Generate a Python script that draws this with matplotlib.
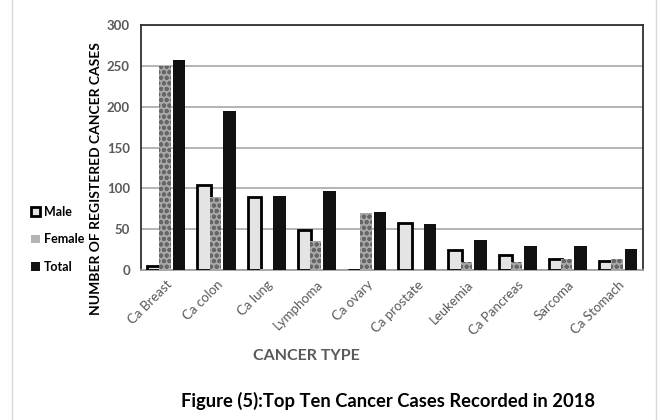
import numpy as np
import matplotlib.pyplot as plt
from matplotlib.lines import Line2D
from matplotlib.patches import Patch

categories = ["Ca Breast", "Ca colon", "Ca lung", "Lymphoma", "Ca ovary",
              "Ca prostate", "Leukemia", "Ca Pancreas", "Sarcoma", "Ca Stomach"]
male = [5, 104, 89, 49, 0, 58, 25, 18, 14, 11]
female = [250, 89, 1, 35, 70, 0, 10, 10, 14, 13]
total = [257, 195, 91, 97, 71, 56, 37, 30, 30, 26]

plt.rcParams['font.family'] = ['Lato', 'DejaVu Sans']
plt.rcParams['hatch.linewidth'] = 1.3

fig = plt.figure(figsize=(6.61, 4.2), dpi=100)
ax = fig.add_axes([0.2133, 0.357, 0.7595, 0.5833])

x = np.arange(len(categories))
w = 0.27
ax.bar(x - 0.24, male, w, color='#e4e4e4', edgecolor='black', linewidth=2, zorder=3)
ax.bar(x - 0.02, female, w - 0.04, color='#a8a8a8', edgecolor='#666666',
       hatch='ooo', linewidth=0, zorder=4)
ax.bar(x + 0.26, total, w - 0.02, color='#111111', zorder=3)

ax.set_xlim(-0.5, len(categories) - 0.5)
ax.set_ylim(0, 300)
ax.set_yticks(range(0, 301, 50))
ax.yaxis.grid(True, color='#a8a8a8', linewidth=1.2)
ax.set_axisbelow(True)
for side in ['left', 'top', 'right']:
    ax.spines[side].set_color('#303030')
    ax.spines[side].set_linewidth(1.3)
ax.spines['bottom'].set_color('#a0a0a0')
ax.spines['bottom'].set_linewidth(1.3)

ax.set_xticks(x)
ax.set_xticklabels(categories, rotation=45, ha='right', rotation_mode='anchor',
                   fontsize=9.5, color='#595959')
ax.tick_params(axis='both', length=0)
ax.tick_params(axis='x', pad=6)
ax.tick_params(axis='y', pad=8)
for lab in ax.get_yticklabels():
    lab.set_fontsize(9.5)
    lab.set_color('#595959')
    lab.set_fontweight('bold')

fig.text(0.145, 0.575, "NUMBER OF REGISTERED CANCER CASES", rotation=90,
         ha='center', va='center', fontsize=10, fontweight='bold', color='black')
fig.text(0.463, 0.153, "CANCER TYPE", ha='center', va='center',
         fontsize=11.5, fontweight='bold', color='#595959')
fig.text(0.587, 0.046, "Figure (5):Top Ten Cancer Cases Recorded in 2018",
         ha='center', va='center', fontsize=13.2, fontweight='bold', color='black')

handles = [
    Patch(facecolor='#e4e4e4', edgecolor='black', linewidth=2, label='Male'),
    Patch(facecolor='#b4b4b4', edgecolor='#d0d0d0', linewidth=0, label='Female'),
    Patch(facecolor='#111111', label='Total'),
]
fig.legend(handles=handles, loc='center left', bbox_to_anchor=(0.03, 0.43),
           frameon=False, handlelength=0.7, handleheight=0.7, handletextpad=0.3,
           labelspacing=1.25, prop={'weight': 'bold', 'size': 9})

# light frame at the left and right edges of the image
fig.add_artist(Line2D([0.018, 0.018], [0, 1], transform=fig.transFigure,
                      color='#d8d8d8', linewidth=1))
fig.add_artist(Line2D([0.993, 0.993], [0, 1], transform=fig.transFigure,
                      color='#d8d8d8', linewidth=1))

fig.savefig('out.png', dpi=100)
